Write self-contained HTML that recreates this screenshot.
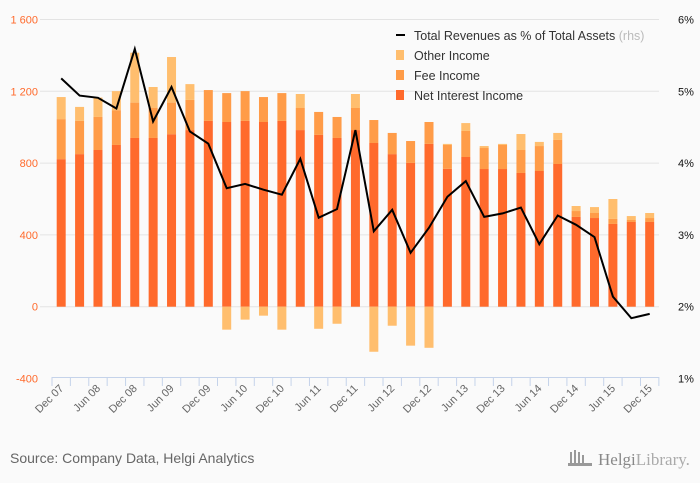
<!DOCTYPE html>
<html><head><meta charset="utf-8"><style>
html,body{margin:0;padding:0;background:#fafafa;}
svg{display:block;font-family:"Liberation Sans",sans-serif;}
</style></head><body>
<svg id="chart" width="700" height="483" viewBox="0 0 700 483">
<rect x="0" y="0" width="700" height="483" fill="#fafafa"/>
<g id="grid"></g><g id="bars"></g><g id="line"></g><g id="axes"></g>
<g font-size="12.5" fill="#333">
 <line x1="396" y1="35" x2="405" y2="35" stroke="#000" stroke-width="2"/>
 <text x="414" y="40">Total Revenues as % of Total Assets <tspan fill="#bbb">(rhs)</tspan></text>
 <rect x="396" y="50" width="8" height="10" fill="#ffbe6e"/>
 <text x="414" y="60">Other Income</text>
 <rect x="396" y="70" width="8" height="10" fill="#ff9c48"/>
 <text x="414" y="80">Fee Income</text>
 <rect x="396" y="90" width="8" height="10" fill="#ff6a2c"/>
 <text x="414" y="100">Net Interest Income</text>
</g>
<text x="10" y="463" font-size="14" fill="#666">Source: Company Data, Helgi Analytics</text>
<g>
 <rect x="570" y="452" width="2" height="12" fill="#999"/><rect x="574" y="450" width="2" height="14" fill="#999"/><rect x="578" y="452" width="2" height="12" fill="#999"/><rect x="582" y="455" width="2" height="9" fill="#999"/><rect x="568" y="463" width="24" height="3" fill="#999"/>
 <text x="598" y="465" font-size="17" fill="#888" font-family="Liberation Serif,serif">Helgi<tspan fill="#aaa">Library.</tspan></text>
</g>
<script>
const categories=[];
(function(){for(let y=7;y<=15;y++){categories.push('Dec '+String(y).padStart(2,'0'));if(y<15){categories.push('Mar '+String(y+1).padStart(2,'0'));categories.push('Jun '+String(y+1).padStart(2,'0'));categories.push('Sep '+String(y+1).padStart(2,'0'));}}})();
const netInterest=[822,850,873,901,940,940,961,984,1035,1029,1035,1029,1035,984,957,940,984,912,850,801,907,768,834,767,767,745,756,795,500,494,461,472,472];
const feeIncome=[223,185,184,194,197,167,176,168,172,161,166,139,155,123,128,117,123,128,118,122,122,133,145,117,134,128,139,134,33,28,28,11,22];
const otherIncome=[123,78,108,106,278,117,254,88,0,-128,-72,-50,-128,78,-123,-95,78,-251,-106,-217,-229,6,44,11,6,89,23,39,28,33,111,22,28];
const revPct=[5.18,4.94,4.91,4.76,5.59,4.58,5.06,4.44,4.27,3.65,3.71,3.63,3.56,4.06,3.24,3.36,4.46,3.05,3.35,2.75,3.10,3.53,3.75,3.25,3.30,3.38,2.87,3.27,3.14,2.97,2.14,1.84,1.90];
const leftTicks=[-400,0,400,800,1200,1600];
const leftTickLabels=['-400','0','400','800','1 200','1 600'];
const rightTicks=[1,2,3,4,5,6];
const rightTickLabels=['1%','2%','3%','4%','5%','6%'];

const NS='http://www.w3.org/2000/svg';
const X0=52,BW=18.39,Y0=306.7,PX=71.8/400;
const xc=i=>X0+(i+0.5)*BW;
const yL=v=>Y0-v*PX;
const yR=p=>Y0-(p-2)*71.8;
function mk(tag,attrs,parent){const e=document.createElementNS(NS,tag);for(const k in attrs)e.setAttribute(k,attrs[k]);parent.appendChild(e);return e;}
const grid=document.getElementById('grid'),bars=document.getElementById('bars'),line=document.getElementById('line'),axes=document.getElementById('axes');
leftTicks.forEach((v,i)=>{
 if(v>-400){const g=mk('line',{x1:40,x2:659,y1:yL(v),y2:yL(v),stroke:'#e3e3e3','stroke-width':1},grid);
 
 }
 const t=mk('text',{x:38,y:yL(v)+4,'text-anchor':'end','font-size':11,fill:'#ff6a2c'},axes);t.textContent=leftTickLabels[i];
 
 
});
rightTicks.forEach((p,i)=>{
 const t=mk('text',{x:686,y:yR(p)+4,'text-anchor':'middle','font-size':11,fill:'#111'},axes);t.textContent=rightTickLabels[i];
 
 
});
const BWID=9;
categories.forEach((c,i)=>{
 const x=xc(i)-BWID/2;
 const n=netInterest[i],f=feeIncome[i],o=otherIncome[i];
 const r1=mk('rect',{x:x,y:yL(n),width:BWID,height:n*PX,fill:'#ff6a2c'},bars);
 
 
 const r2=mk('rect',{x:x,y:yL(n+f),width:BWID,height:f*PX,fill:'#ff9c48'},bars);
 
 
 let r3;
 if(o>=0){r3=mk('rect',{x:x,y:yL(n+f+o),width:BWID,height:o*PX,fill:'#ffbe6e'},bars);}
 else{r3=mk('rect',{x:x,y:Y0,width:BWID,height:-o*PX,fill:'#ffbe6e'},bars);}
 
 
});
const pts=revPct.map((p,i)=>xc(i).toFixed(1)+','+yR(p).toFixed(1)).join(' ');
const pl=mk('polyline',{points:pts,fill:'none',stroke:'#000','stroke-width':2,'stroke-linejoin':'miter'},line);


const ax=mk('line',{x1:X0,x2:X0+categories.length*BW,y1:377.5,y2:377.5,stroke:'#c5d3ea','stroke-width':1},axes);


for(let k=0;k<=categories.length;k++){
 const tk=mk('line',{x1:X0+k*BW,x2:X0+k*BW,y1:377,y2:386,stroke:'#c5d3ea','stroke-width':1},axes);
 
 
}
categories.forEach((c,i)=>{
 if(i%2)return;
 const x=xc(i)+3,y=389;
 const t=mk('text',{x:x,y:y,'text-anchor':'end','font-size':11,fill:'#666',transform:`rotate(-45 ${x} ${y})`},axes);
 t.textContent=c;
 
 
});
</script>
</svg>
</body></html>
